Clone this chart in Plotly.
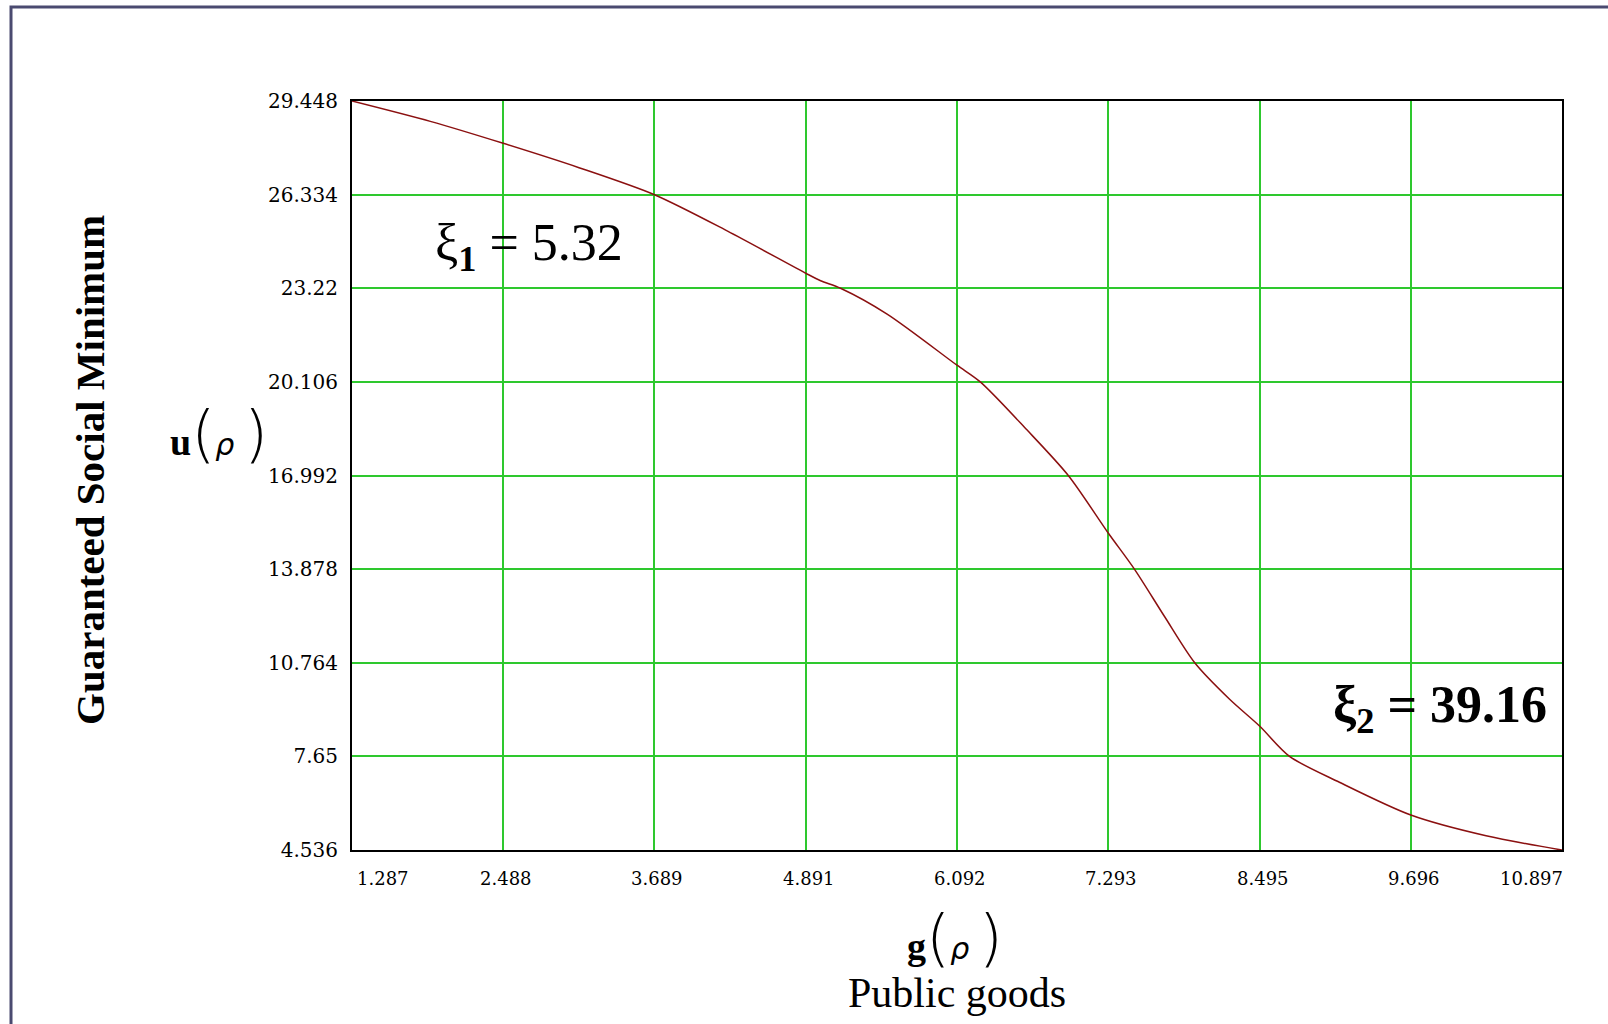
import plotly.graph_objects as go

# ---- data ----
g_vals = [1.287, 1.909, 2.488, 3.090, 3.689, 4.270, 4.891, 5.009, 5.167, 5.537,
          6.092, 6.277, 6.647, 6.976, 7.293, 7.501, 7.739, 7.980, 8.257, 8.495,
          8.733, 9.129, 9.696, 10.294, 10.897]
u_vals = [29.448, 28.77, 28.04, 27.23, 26.33, 25.12, 23.72, 23.47, 23.22, 22.36,
          20.66, 20.106, 18.51, 16.992, 15.08, 13.878, 12.31, 10.764, 9.55, 8.66,
          7.65, 6.79, 5.70, 5.01, 4.536]

x_ticks = [1.287, 2.488, 3.689, 4.891, 6.092, 7.293, 8.495, 9.696, 10.897]
x_tick_labels = ["1.287", "2.488", "3.689", "4.891", "6.092", "7.293", "8.495", "9.696", "10.897"]
y_ticks = [4.536, 7.65, 10.764, 13.878, 16.992, 20.106, 23.22, 26.334, 29.448]
y_tick_labels = ["4.536", "7.65", "10.764", "13.878", "16.992", "20.106", "23.22", "26.334", "29.448"]

x_title = "Public goods"
y_title = "Guaranteed Social Minimum"
xi1_text = "ξ<sub><b>1</b></sub> = 5.32"
xi2_text = "<b>ξ<sub>2</sub> = 39.16</b>"

SERIF = "Liberation Serif, Times New Roman, serif"
TICKFONT = "DejaVu Serif, serif"
GRID = "#2ec82e"

W, H = 1608, 1024
ML, MR, MT, MB = 352, 46, 101, 174
PW, PH = W - ML - MR, H - MT - MB

fig = go.Figure()
fig.add_trace(go.Scatter(x=g_vals, y=u_vals, mode="lines",
                         line=dict(color="#8b1010", width=1.5, shape="spline", smoothing=0.8),
                         hoverinfo="skip", showlegend=False))

fig.update_layout(
    width=W, height=H,
    margin=dict(l=ML, r=MR, t=MT, b=MB),
    paper_bgcolor="white", plot_bgcolor="white",
    showlegend=False,
    xaxis=dict(range=[x_ticks[0], x_ticks[-1]], tickvals=x_ticks, showticklabels=False,
               showgrid=True, gridcolor=GRID, gridwidth=2, zeroline=False,
               showline=True, linecolor="black", linewidth=2, mirror=True, ticks=""),
    yaxis=dict(range=[y_ticks[0], y_ticks[-1]], tickvals=y_ticks, ticktext=y_tick_labels,
               tickfont=dict(family=TICKFONT, size=20, color="black"),
               showgrid=True, gridcolor=GRID, gridwidth=2, zeroline=False,
               showline=True, linecolor="black", linewidth=2, mirror=True, ticks="",
               ticklabelstandoff=8),
)

# x tick labels (first left-aligned, last right-aligned, as in the reference)
for i, (xv, lab) in enumerate(zip(x_ticks, x_tick_labels)):
    if i == 0:
        anchor, shift = "left", 3
    elif i == len(x_ticks) - 1:
        anchor, shift = "right", 3
    else:
        anchor, shift = "center", 3
    fig.add_annotation(x=xv, y=0, xref="x", yref="paper", text=lab, showarrow=False,
                       xanchor=anchor, yanchor="middle", yshift=-28, xshift=shift,
                       font=dict(family=TICKFONT, size=18, color="black"))

paren = "<span style='font-size:62px;font-family:DejaVu Sans;font-weight:200'>%s</span>"
rho = "<span style='font-family:DejaVu Sans;font-size:30px'><i>ρ</i></span>"


def px(xpix):
    return (xpix - ML) / PW


def py(ypix):
    return (H - MB - ypix) / PH


annots = [
    dict(x=px(90), y=py(470), text=y_title, textangle=-90,
         font=dict(family=SERIF, size=41, color="black", weight="bold")),
    dict(x=px(219), y=py(433), text="<b>u</b>" + paren % "(" + rho + " " + paren % ")",
         font=dict(family=SERIF, size=38, color="black")),
    dict(x=px(955), y=py(937), text="<b>g</b>" + paren % "(" + rho + " " + paren % ")",
         font=dict(family=SERIF, size=38, color="black")),
    dict(x=px(957), y=py(993), text=x_title, font=dict(family=SERIF, size=42, color="black")),
    dict(x=px(529), y=py(246), text=xi1_text, font=dict(family=SERIF, size=52, color="black")),
    dict(x=px(1440), y=py(708), text=xi2_text, font=dict(family=SERIF, size=52, color="black")),
]
for a in annots:
    fig.add_annotation(xref="paper", yref="paper", showarrow=False,
                       xanchor="center", yanchor="middle", **a)

# outer window frame (bottom and right edges run off the page)
fig.add_shape(type="rect", xref="paper", yref="paper",
              x0=px(11), x1=px(1640), y0=py(1040), y1=py(7),
              line=dict(color="#4a4a70", width=3), layer="below")

fig.write_html("out.html", config={"displayModeBar": False},
               post_script="document.body.style.margin='0';")
